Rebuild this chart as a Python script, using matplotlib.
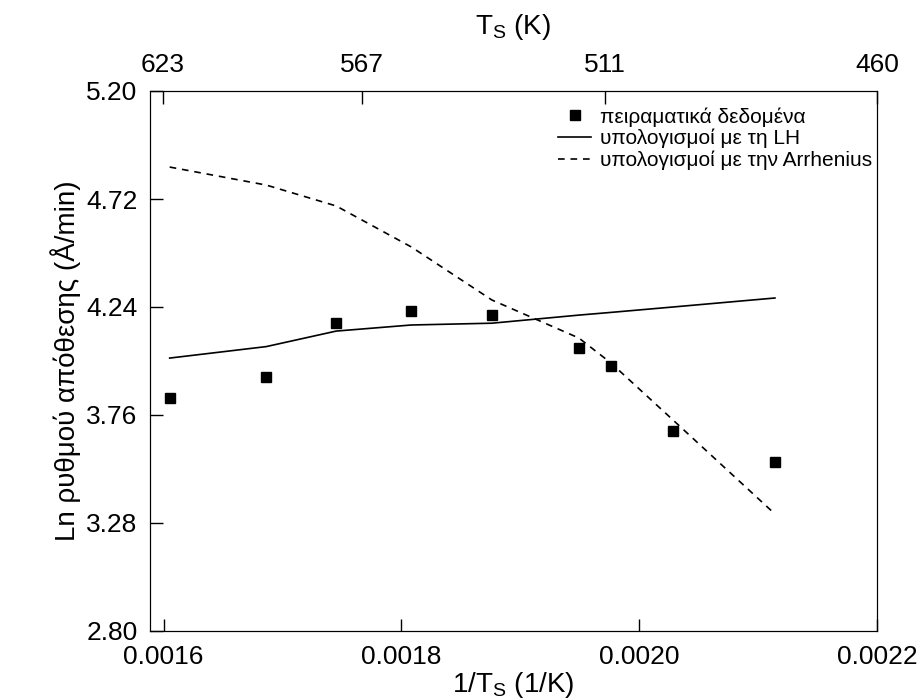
import numpy as np
import matplotlib
matplotlib.use('Agg')
import matplotlib.pyplot as plt

plt.rcParams['font.family'] = ['Liberation Sans', 'DejaVu Sans']

# Θερμοκρασίες υποστρώματος (K)
T_s = np.array([623, 593, 573, 553, 533, 513, 506, 493, 473])
x = 1.0 / T_s

# Πειραματικά δεδομένα
ln_exp = [3.837, 3.929, 4.169, 4.224, 4.206, 4.056, 3.979, 3.689, 3.553]
# Υπολογισμοί με το μοντέλο LH
ln_lh = [4.013, 4.064, 4.133, 4.160, 4.168, 4.204, 4.216, 4.240, 4.280]
# Υπολογισμοί με την Arrhenius
ln_arr = [4.862, 4.782, 4.689, 4.507, 4.271, 4.102, 3.991, 3.738, 3.320]

top_T = [623, 567, 511, 460]
y_ticks = [2.80, 3.28, 3.76, 4.24, 4.72, 5.20]
x_ticks = [0.0016, 0.0018, 0.0020, 0.0022]

fig = plt.figure(figsize=(9.22, 7), dpi=100)
ax = fig.add_axes([150/922, 1-631/700, 727/922, 540/700])

ax.plot(x, ln_exp, 's', color='black', markersize=6.5, label='πειραματικά δεδομένα')
ax.plot(x, ln_lh, '-', color='black', lw=1.2, label='υπολογισμοί με τη LH')
ax.plot(x, ln_arr, color='black', lw=1.2, linestyle=(0, (4, 3.5)),
        label='υπολογισμοί με την Arrhenius')

ax.set_xlim(0.0015886, 0.0022)
ax.set_ylim(2.80, 5.20)
ax.set_xticks(x_ticks)
ax.set_xticklabels(['0.0016', '0.0018', '0.0020', '0.0022'])
ax.set_yticks(y_ticks)
ax.set_yticklabels(['%.2f' % v for v in y_ticks])
ax.tick_params(direction='in', length=9, width=1, labelsize=19)
ax.tick_params(axis='x', pad=10)
ax.tick_params(axis='y', pad=9)
ax.set_xlabel(r'1/T$_\mathregular{S}$ (1/K)', fontsize=20, labelpad=1)
ax.set_ylabel('Ln ρυθμού απόθεσης (Å/min)', fontsize=20, labelpad=4)

# πάνω άξονας θερμοκρασίας
ax2 = ax.twiny()
ax2.set_xlim(0.0015947, 1/460)
ax2.set_xticks([1.0/t for t in top_T])
ax2.set_xticklabels([str(t) for t in top_T])
ax2.tick_params(direction='in', length=9, width=1, labelsize=19, pad=10)
ax2.set_xlabel(r'T$_\mathregular{S}$ (K)', fontsize=20, labelpad=14)

leg = ax.legend(loc='upper left', bbox_to_anchor=(0.561, 0.970), frameon=False,
                fontsize=15, handlelength=1.6, handletextpad=0.4,
                labelspacing=0.1, borderpad=0, borderaxespad=0)

plt.savefig('out.png', dpi=100)
